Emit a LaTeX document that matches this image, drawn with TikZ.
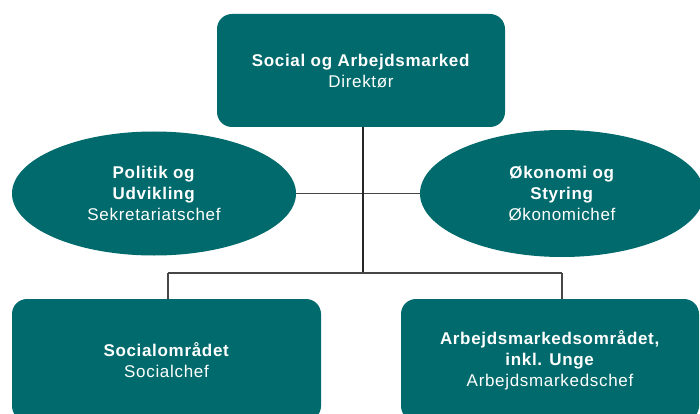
\documentclass[tikz,border=0pt]{standalone}
\usepackage{fontspec}
\setmainfont{Liberation Sans}
\newfontfamily\diagfont{Liberation Sans}[LetterSpace=4]
\usetikzlibrary{shapes.geometric}
\definecolor{teal1}{RGB}{0,106,108}
\definecolor{linegray}{RGB}{70,70,70}
\tikzset{
  x=1pt, y=-1pt,
  unit/.style={fill=teal1, draw=none, text=white, align=center, inner sep=0pt,
    font=\diagfont\fontsize{17}{21}\selectfont},
  roundbox/.style={unit, rectangle, rounded corners=15pt},
  oval/.style={unit, ellipse},
  conn/.style={draw=linegray, line width=1.4pt},
  stem/.style={draw=black!85, line width=1.1pt}
}
\begin{document}
\begin{tikzpicture}
\useasboundingbox (0,0) rectangle (700,414);
\clip (0,0) rectangle (700,414);
% nodes
\node[roundbox, minimum width=288pt, minimum height=113pt] (top) at (361,70.5)
  {\textbf{Social og Arbejdsmarked}\\Direktør};
\node[oval, minimum width=284pt, minimum height=124pt] (pol) at (154,193.5)
  {\textbf{Politik og}\\\textbf{Udvikling}\\Sekretariatschef};
\node[oval, minimum width=284pt, minimum height=127pt] (oko) at (562,193.5)
  {\textbf{Økonomi og}\\\textbf{Styring}\\Økonomichef};
\node[roundbox, minimum width=309pt, minimum height=122pt] (soc) at (166.5,360)
  {\textbf{Socialområdet}\\Socialchef};
\node[roundbox, minimum width=298pt, minimum height=122pt] (arb) at (550,360)
  {\textbf{Arbejdsmarkedsområdet,}\\\textbf{inkl. Unge}\\Arbejdsmarkedschef};
% junction points
\coordinate (jmid) at (363,273);
\coordinate (jl) at (168,273);
\coordinate (jr) at (562,273);
% connectors
\draw[conn] (pol.east) -- (oko.west);
\draw[stem] (top.south -| jmid) -- (jmid);
\draw[conn] (jl) -- (jr);
\draw[conn] (jl) -- (jl |- soc.north);
\draw[conn] (jr) -- (jr |- arb.north);
\end{tikzpicture}
\end{document}
